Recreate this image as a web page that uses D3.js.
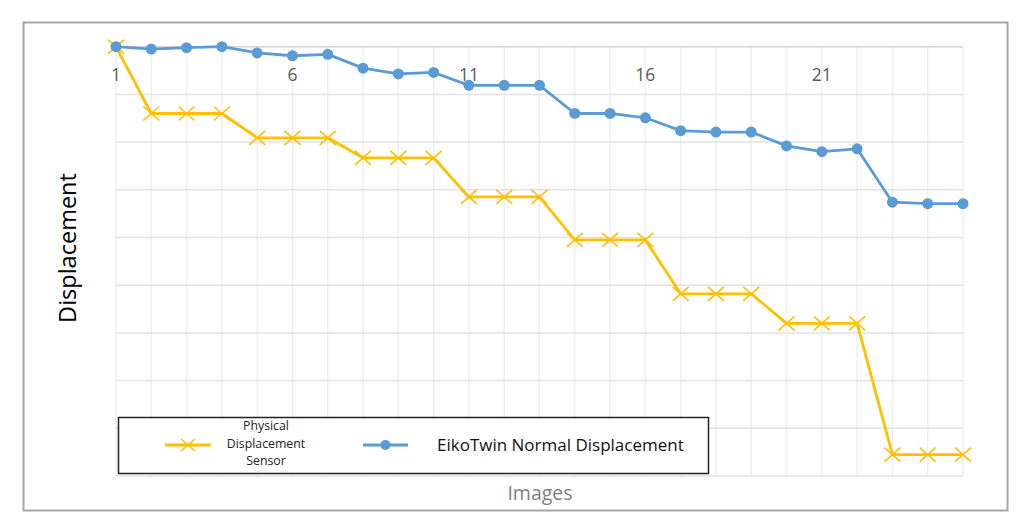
<!DOCTYPE html>
<html>
<head>
<meta charset="utf-8">
<script src="https://cdn.jsdelivr.net/npm/d3@7"></script>
<style>
  body { margin: 0; background: white; }
</style>
</head>
<body>
<script>
'use strict';

// image index along the x axis
const images = [1, 2, 3, 4, 5, 6, 7, 8, 9, 10, 11, 12, 13, 14, 15, 16, 17, 18, 19, 20, 21, 22, 23, 24, 25];
// physical displacement sensor readings
const sensor = [0, -1.40, -1.40, -1.40, -1.91, -1.91, -1.91, -2.33, -2.33, -2.33, -3.15, -3.15, -3.15,
  -4.05, -4.05, -4.05, -5.18, -5.18, -5.18, -5.80, -5.80, -5.80, -8.55, -8.55, -8.55];
// EikoTwin normal displacement
const eikotwin = [0, -0.05, -0.02, 0, -0.13, -0.19, -0.16, -0.45, -0.57, -0.54, -0.81, -0.81, -0.81,
  -1.40, -1.40, -1.49, -1.76, -1.79, -1.79, -2.08, -2.20, -2.14, -3.26, -3.29, -3.29];
// labelled ticks on the x axis
const xTickLabels = [1, 6, 11, 16, 21];
// gridline levels
const yGrid = [0, -1, -2, -3, -4, -5, -6, -7, -8, -9];

(function() {

  let svgContainer = "";

  window.onload = function() {
    svgContainer = d3.select('body')
      .append('svg')
      .attr('width', 1024)
      .attr('height', 530)
      .style('font-family', '"Open Sans", sans-serif');

    // outer frame
    svgContainer.append('rect')
      .attr('x', 23.5)
      .attr('y', 22.5)
      .attr('width', 984)
      .attr('height', 488)
      .attr('fill', 'white')
      .attr('stroke', '#a6a6a6')
      .attr('stroke-width', 2);

    let xScale = d3.scaleLinear()
      .domain([1, 25])
      .range([116, 963]);

    let yScale = d3.scaleLinear()
      .domain([0, -9])
      .range([46.7, 476]);

    drawGrid(xScale, yScale);
    plotSensor(xScale, yScale);
    plotEiko(xScale, yScale);
    makeLabels(xScale);
    makeLegend();
  }

  // gridlines, vertical at every image, horizontal at every unit
  function drawGrid(xScale, yScale) {
    svgContainer.append('g')
      .selectAll('line')
      .data(images)
      .enter()
      .append('line')
        .attr('x1', (d) => xScale(d))
        .attr('x2', (d) => xScale(d))
        .attr('y1', yScale(0))
        .attr('y2', yScale(-9))
        .attr('stroke', '#efefef')
        .attr('stroke-width', 1.5);

    svgContainer.append('g')
      .selectAll('line')
      .data(yGrid)
      .enter()
      .append('line')
        .attr('x1', xScale(1))
        .attr('x2', xScale(25))
        .attr('y1', (d) => yScale(d))
        .attr('y2', (d) => yScale(d))
        .attr('stroke', (d) => d == 0 ? '#d4d4d4' : '#e2e2e2')
        .attr('stroke-width', 1.5);
  }

  function plotSensor(xScale, yScale) {
    const line = d3.line()
      .x((d, i) => xScale(images[i]))
      .y((d) => yScale(d));

    svgContainer.append('path')
      .datum(sensor)
      .attr('d', line)
      .attr('fill', 'none')
      .attr('stroke', '#FFC000')
      .attr('stroke-width', 2.8)
      .attr('stroke-linejoin', 'round');

    svgContainer.selectAll('.xmark')
      .data(sensor)
      .enter()
      .append('path')
        .attr('class', 'xmark')
        .attr('transform', (d, i) => 'translate(' + xScale(images[i]) + ',' + yScale(d) + ')')
        .attr('d', 'M-8,-7L8,7M-8,7L8,-7')
        .attr('stroke', '#FFC000')
        .attr('stroke-width', 1.6)
        .attr('fill', 'none');
  }

  function plotEiko(xScale, yScale) {
    const line = d3.line()
      .x((d, i) => xScale(images[i]))
      .y((d) => yScale(d));

    svgContainer.append('path')
      .datum(eikotwin)
      .attr('d', line)
      .attr('fill', 'none')
      .attr('stroke', '#5B9BD5')
      .attr('stroke-width', 2.8)
      .attr('stroke-linejoin', 'round');

    svgContainer.selectAll('.dot')
      .data(eikotwin)
      .enter()
      .append('circle')
        .attr('class', 'dot')
        .attr('cx', (d, i) => xScale(images[i]))
        .attr('cy', (d) => yScale(d))
        .attr('r', 5.5)
        .attr('fill', '#5B9BD5');
  }

  // tick labels and axis titles
  function makeLabels(xScale) {
    svgContainer.selectAll('.xtick')
      .data(xTickLabels)
      .enter()
      .append('text')
        .attr('class', 'xtick')
        .attr('x', (d) => xScale(d))
        .attr('y', 81)
        .attr('text-anchor', 'middle')
        .style('font-size', '17.5px')
        .attr('fill', '#595959')
        .text((d) => d);

    svgContainer.append('text')
      .attr('x', 540)
      .attr('y', 500)
      .attr('text-anchor', 'middle')
      .style('font-size', '19.5px')
      .attr('fill', '#7f7f7f')
      .text('Images');

    svgContainer.append('text')
      .attr('transform', 'translate(76, 248)rotate(-90)')
      .attr('text-anchor', 'middle')
      .style('font-size', '23.5px')
      .attr('fill', 'black')
      .text('Displacement');
  }

  function makeLegend() {
    let legend = svgContainer.append('g');

    legend.append('rect')
      .attr('x', 118.5)
      .attr('y', 417.5)
      .attr('width', 590)
      .attr('height', 56)
      .attr('fill', 'white')
      .attr('stroke', '#222')
      .attr('stroke-width', 1.5);

    // sensor entry
    legend.append('line')
      .attr('x1', 165).attr('x2', 211)
      .attr('y1', 445).attr('y2', 445)
      .attr('stroke', '#FFC000')
      .attr('stroke-width', 2.8);
    legend.append('path')
      .attr('transform', 'translate(188,445)')
      .attr('d', 'M-7,-6L7,6M-7,6L7,-6')
      .attr('stroke', '#FFC000')
      .attr('stroke-width', 1.6);

    legend.append('text')
      .attr('x', 266)
      .attr('text-anchor', 'middle')
      .style('font-size', '12.3px')
      .attr('fill', '#222')
      .selectAll('tspan')
      .data(['Physical', 'Displacement', 'Sensor'])
      .enter()
      .append('tspan')
        .attr('x', 266)
        .attr('y', (d, i) => 430 + i * 17.5)
        .text((d) => d);

    // eikotwin entry
    legend.append('line')
      .attr('x1', 363).attr('x2', 408)
      .attr('y1', 445).attr('y2', 445)
      .attr('stroke', '#5B9BD5')
      .attr('stroke-width', 2.8);
    legend.append('circle')
      .attr('cx', 385.5)
      .attr('cy', 445)
      .attr('r', 5)
      .attr('fill', '#5B9BD5');

    legend.append('text')
      .attr('x', 437)
      .attr('y', 451)
      .style('font-size', '17px')
      .attr('fill', '#111')
      .text('EikoTwin Normal Displacement');
  }

})();
</script>
</body>
</html>
